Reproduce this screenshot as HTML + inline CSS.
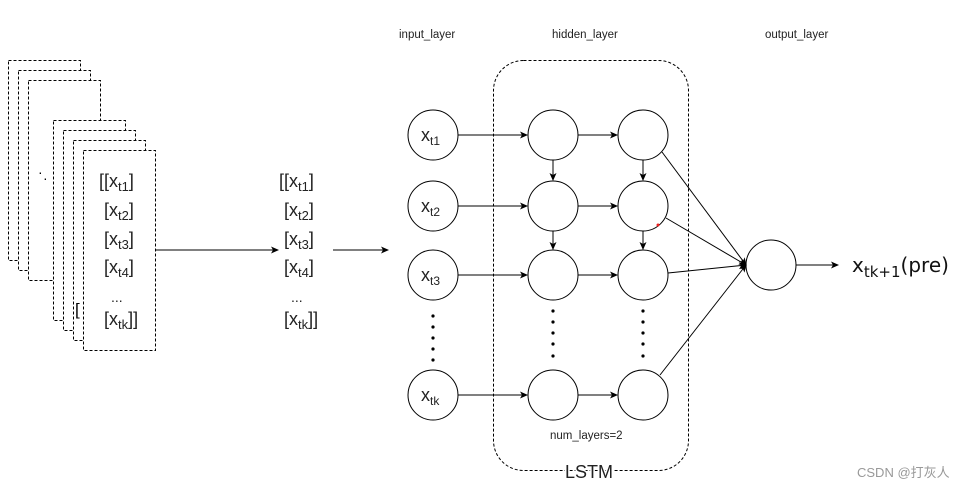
<!DOCTYPE html>
<html><head><style>body{margin:0;background:#fff}svg{display:block}</style></head><body>
<svg width="969" height="490" xmlns="http://www.w3.org/2000/svg" font-family="Liberation Sans, sans-serif">
<defs><marker id="a" markerWidth="8" markerHeight="8" refX="7" refY="4" orient="auto" markerUnits="userSpaceOnUse"><path d="M0,0.5 L8,4 L0,7.5 L2,4z" fill="#000"/></marker></defs>
<g fill="#fff" stroke="#000" stroke-dasharray="3,2" stroke-width="1">
<rect x="8.5" y="60.5" width="72" height="200"/>
<rect x="18.5" y="70.5" width="72" height="200"/>
<rect x="28.5" y="80.5" width="72" height="200"/>
<rect x="53.5" y="120.5" width="72" height="200"/>
<rect x="63.5" y="130.5" width="72" height="200"/>
<rect x="73.5" y="140.5" width="72" height="200"/>
<rect x="83.5" y="150.5" width="72" height="200"/>
</g>
<text x="38" y="177" font-size="14">·</text><text x="43" y="183" font-size="14">·</text>
<text x="75" y="315" font-size="17">[</text>
<g font-size="18" fill="#222">
<text x="99" y="187">[[x<tspan font-size="13" dy="4">t1</tspan><tspan dy="-4">]</tspan></text>
<text x="104" y="216">[x<tspan font-size="13" dy="4">t2</tspan><tspan dy="-4">]</tspan></text>
<text x="104" y="245">[x<tspan font-size="13" dy="4">t3</tspan><tspan dy="-4">]</tspan></text>
<text x="104" y="273">[x<tspan font-size="13" dy="4">t4</tspan><tspan dy="-4">]</tspan></text>
<text x="111" y="302" font-size="14">...</text>
<text x="104" y="325">[x<tspan font-size="13" dy="4">tk</tspan><tspan dy="-4">]]</tspan></text>
<text x="279" y="187">[[x<tspan font-size="13" dy="4">t1</tspan><tspan dy="-4">]</tspan></text>
<text x="284" y="216">[x<tspan font-size="13" dy="4">t2</tspan><tspan dy="-4">]</tspan></text>
<text x="284" y="245">[x<tspan font-size="13" dy="4">t3</tspan><tspan dy="-4">]</tspan></text>
<text x="284" y="273">[x<tspan font-size="13" dy="4">t4</tspan><tspan dy="-4">]</tspan></text>
<text x="291" y="302" font-size="14">...</text>
<text x="284" y="325">[x<tspan font-size="13" dy="4">tk</tspan><tspan dy="-4">]]</tspan></text>
</g>
<g stroke="#000" fill="none">
<line x1="155" y1="250" x2="278" y2="250" marker-end="url(#a)"/>
<line x1="333" y1="250" x2="388" y2="250" marker-end="url(#a)"/>
<rect x="493.5" y="60.5" width="195" height="410" rx="30" stroke-dasharray="3,2"/>
</g>
<g font-size="11.5" fill="#222">
<text x="399" y="38">input_layer</text>
<text x="552" y="38">hidden_layer</text>
<text x="765" y="38">output_layer</text>
<text x="550" y="439">num_layers=2</text>
</g>
<text x="565" y="478" font-size="18" fill="#222" style="paint-order:stroke" stroke="#fff" stroke-width="3">LSTM</text>
<g stroke="#000" fill="#fff">
<circle cx="433" cy="135" r="25"/><circle cx="433" cy="206" r="25"/><circle cx="433" cy="275" r="25"/><circle cx="433" cy="395" r="25"/>
<circle cx="553" cy="135" r="25"/><circle cx="553" cy="206" r="25"/><circle cx="553" cy="275" r="25"/><circle cx="553" cy="395" r="25"/>
<circle cx="643" cy="135" r="25"/><circle cx="643" cy="206" r="25"/><circle cx="643" cy="275" r="25"/><circle cx="643" cy="395" r="25"/>
<circle cx="771" cy="265" r="25"/>
</g>
<g stroke="#000" fill="none" marker-end="url(#a)">
<line x1="458" y1="135" x2="527" y2="135"/><line x1="458" y1="206" x2="527" y2="206"/><line x1="458" y1="275" x2="527" y2="275"/><line x1="458" y1="395" x2="527" y2="395"/>
<line x1="578" y1="135" x2="617" y2="135"/><line x1="578" y1="206" x2="617" y2="206"/><line x1="578" y1="275" x2="617" y2="275"/><line x1="578" y1="395" x2="617" y2="395"/>
<line x1="553" y1="160" x2="553" y2="180"/><line x1="553" y1="231" x2="553" y2="249"/>
<line x1="643" y1="160" x2="643" y2="180"/><line x1="643" y1="231" x2="643" y2="249"/>
<line x1="662" y1="152" x2="746" y2="265"/><line x1="666" y1="218" x2="746" y2="265"/><line x1="668" y1="273" x2="746" y2="265"/><line x1="660" y1="375" x2="746" y2="265"/>
<line x1="796" y1="265" x2="838" y2="265"/>
</g>
<circle cx="658" cy="225" r="1.5" fill="#e22"/>
<g fill="#000">
<circle cx="433" cy="316" r="1.6"/><circle cx="433" cy="327" r="1.6"/><circle cx="433" cy="338" r="1.6"/><circle cx="433" cy="349" r="1.6"/><circle cx="433" cy="360" r="1.6"/>
<circle cx="553" cy="311" r="1.6"/><circle cx="553" cy="322" r="1.6"/><circle cx="553" cy="333" r="1.6"/><circle cx="553" cy="344" r="1.6"/><circle cx="553" cy="356" r="1.6"/>
<circle cx="643" cy="311" r="1.6"/><circle cx="643" cy="322" r="1.6"/><circle cx="643" cy="333" r="1.6"/><circle cx="643" cy="344" r="1.6"/><circle cx="643" cy="356" r="1.6"/>
</g>
<g font-size="18" fill="#222">
<text x="421" y="141">x<tspan font-size="12" dy="4">t1</tspan></text>
<text x="421" y="212">x<tspan font-size="12" dy="4">t2</tspan></text>
<text x="421" y="281">x<tspan font-size="12" dy="4">t3</tspan></text>
<text x="421" y="401">x<tspan font-size="12" dy="4">tk</tspan></text>
</g>
<text x="852" y="272" font-size="20" fill="#111" font-family="DejaVu Sans, sans-serif">x<tspan font-size="15" dy="5">tk+1</tspan><tspan dy="-5">(pre)</tspan></text>
<text x="857" y="477" font-size="13" fill="#999" font-family="Liberation Sans, Noto Sans CJK SC, sans-serif">CSDN @打灰人</text>
</svg>
</body></html>
